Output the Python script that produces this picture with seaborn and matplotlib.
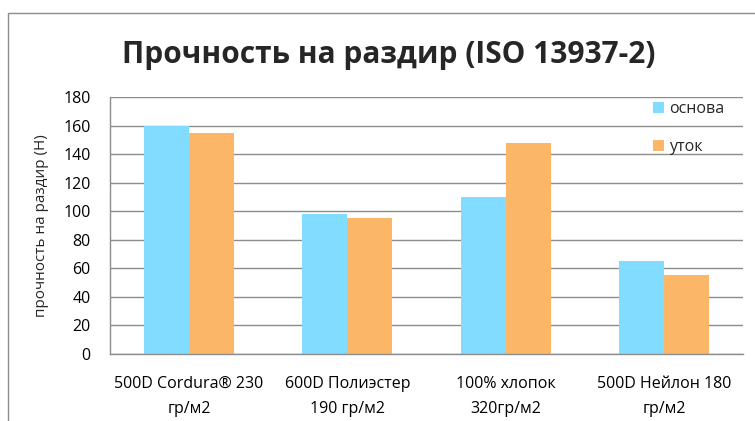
import pandas as pd
import matplotlib.pyplot as plt
import seaborn as sns
from matplotlib.patches import Rectangle

# Data
categories = ["500D Cordura® 230\nгр/м2", "600D Полиэстер\n190 гр/м2",
              "100% хлопок\n320гр/м2", "500D Нейлон 180\nгр/м2"]
warp = [160, 98, 110, 65]     # основа
weft = [155, 95, 148, 55]     # уток
series_names = ["основа", "уток"]
colors = ["#82DCFF", "#FBB767"]

df = pd.DataFrame({
    "cat": categories * 2,
    "value": warp + weft,
    "series": [series_names[0]] * len(categories) + [series_names[1]] * len(categories),
})

sns.set_style("white")
plt.rcParams['font.family'] = ['Open Sans', 'DejaVu Sans']

fig = plt.figure(figsize=(7.55, 4.21), dpi=100)
ax = fig.add_axes([110 / 755, 1 - 354 / 421, 633 / 755, 257 / 421])

sns.barplot(data=df, x="cat", y="value", hue="series", palette=colors,
            width=0.57, saturation=1, linewidth=0, ax=ax, legend=True)

ax.set_ylim(0, 180)
ax.set_yticks(range(0, 181, 20))
ax.set_xlim(-0.5, 3.5)
ax.yaxis.grid(True, color="#8c8c8c", linewidth=1)
ax.set_axisbelow(True)
for s in ["top", "right"]:
    ax.spines[s].set_visible(False)
for s in ["left", "bottom"]:
    ax.spines[s].set_color("#8c8c8c")
    ax.spines[s].set_linewidth(1)
ax.tick_params(axis="both", length=0, labelsize=11.5, colors="black")
ax.tick_params(axis="x", pad=16)
ax.tick_params(axis="y", pad=14)
for lbl in ax.get_xticklabels():
    lbl.set_linespacing(1.75)
ax.set_xlabel("")
ax.set_ylabel("прочность на раздир (Н)", fontsize=11, labelpad=10)

ax.legend(loc="upper left", bbox_to_anchor=(0.848, 1.01), frameon=False,
          handlelength=0.7, handleheight=0.7, handletextpad=0.3,
          labelspacing=1.4, fontsize=11.5, borderaxespad=0)

fig.text(389 / 755, 1 - 55 / 421, "Прочность на раздир (ISO 13937-2)",
         ha="center", va="center", fontsize=21.5, fontweight="bold")

# outer chart border (cut off at right and bottom)
fig.add_artist(Rectangle((8 / 755, -0.1), 1.0, 1.1 - 13 / 421, transform=fig.transFigure,
                         fill=False, edgecolor="#8c8c8c", linewidth=1))

fig.savefig("out.png", dpi=100)
